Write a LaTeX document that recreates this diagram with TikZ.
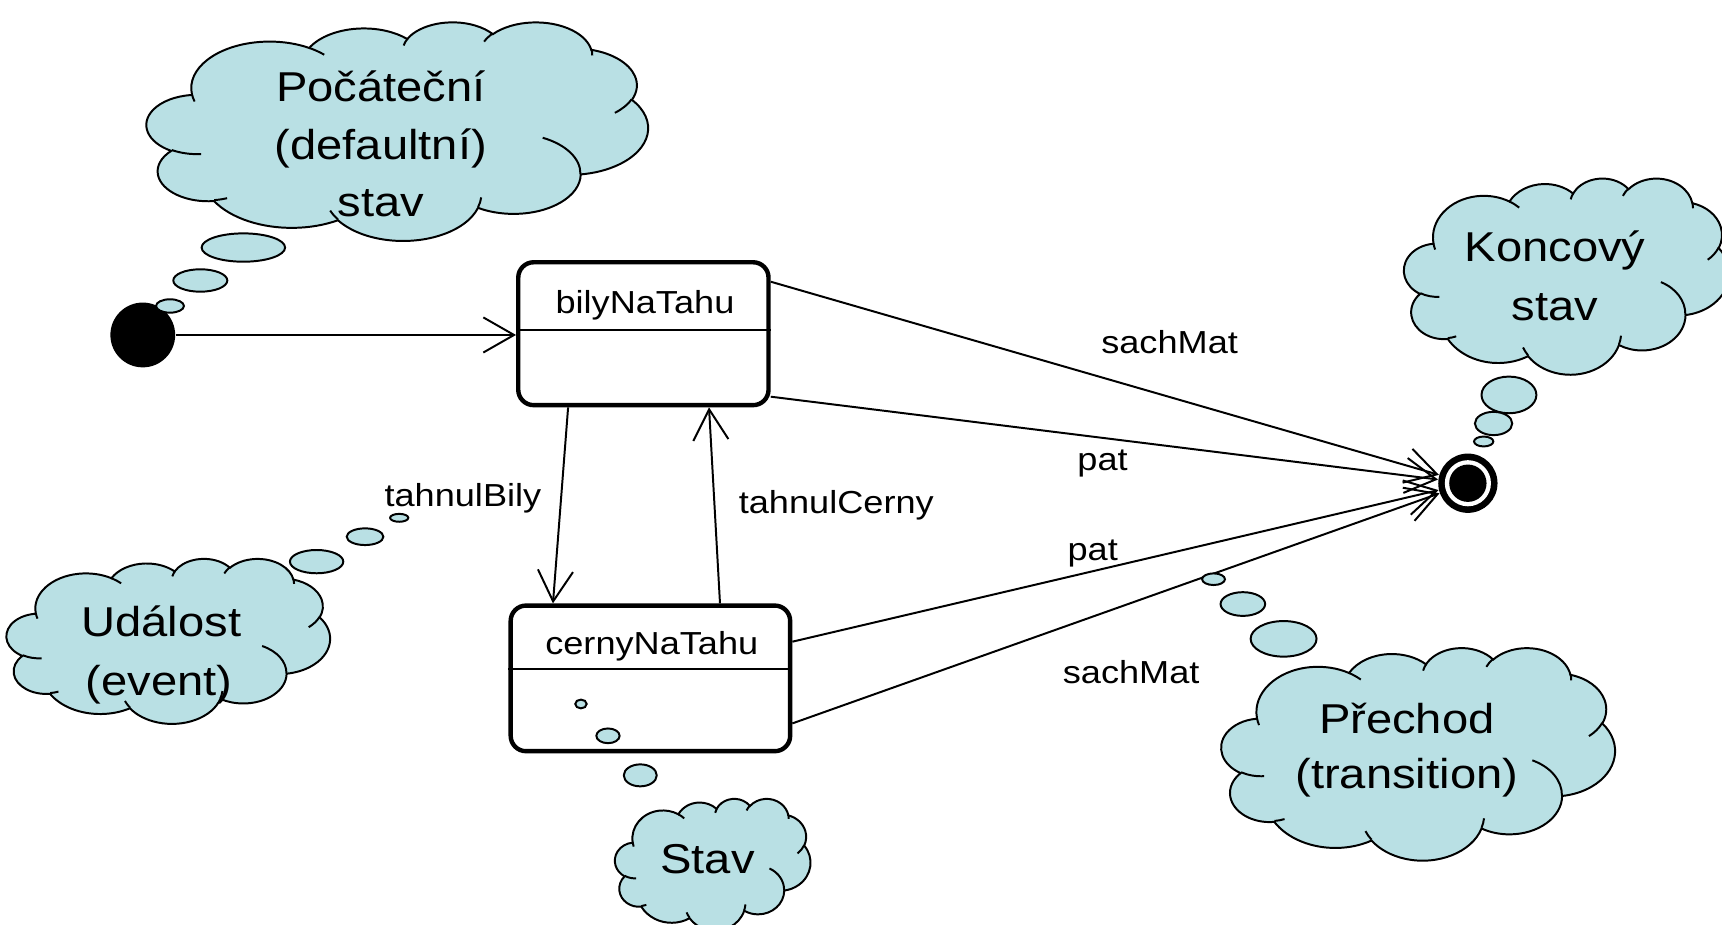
\documentclass[tikz,border=0pt]{standalone}
\usepackage{fontspec}
\setmainfont{Liberation Sans}
\newfontfamily\cldfam[FakeStretch=1.13]{Liberation Sans}
\newfontfamily\lblfam[FakeStretch=1.135]{Liberation Sans}
\usetikzlibrary{arrows.meta}
\definecolor{cloudblue}{RGB}{185,224,228}

% elliptic arc given by radii, start angle and sweep (angles measured on the ellipse as seen)
\newcommand\cldarc[4]{arc[x radius=#1, y radius=#2,
  start angle={atan2((#1)*sin(#3),(#2)*cos(#3))},
  delta angle={mod(atan2((#1)*sin((#3)+(#4)),(#2)*cos((#3)+(#4)))-atan2((#1)*sin(#3),(#2)*cos(#3))+720,360)}]}

% cloud outline in a 43.2 x 43.2 box
\newcommand\cloudoutline{(3.900,14.370)
  \cldarc{6.753}{9.190}{-190.4875}{123.7805}
  \cldarc{5.333}{7.267}{-144.1024}{89.9452}
  \cldarc{4.365}{5.945}{-145.8079}{99.7230}
  \cldarc{4.857}{6.595}{-130.9861}{117.2417}
  \cldarc{5.333}{7.273}{-78.7089}{109.0269}
  \cldarc{6.775}{9.220}{-46.2673}{130.2690}
  \cldarc{5.785}{7.867}{0.6250}{114.0333}
  \cldarc{6.752}{9.215}{22.4516}{115.1726}
  \cldarc{7.720}{10.543}{66.2426}{75.7110}
  \cldarc{4.360}{5.918}{-274.9421}{146.7356}
  \cldarc{4.345}{5.945}{-246.8285}{152.5189} -- cycle}

% inner creases of the cloud
\newcommand\cloudcreases{
  (4.693,26.177) \cldarc{4.345}{5.945}{86.7420}{26.4295}
  (6.928,34.899) \cldarc{4.360}{5.918}{73.6105}{11.4475}
  (16.478,39.090) \cldarc{6.752}{9.215}{137.6242}{14.0811}
  (28.827,34.751) \cldarc{6.752}{9.215}{6.4533}{15.9984}
  (34.129,22.954) \cldarc{5.785}{7.867}{-70.2924}{70.9174}
  (41.798,15.354) \cldarc{5.333}{7.273}{30.3180}{27.7515}
  (38.324,5.426) \cldarc{4.857}{6.595}{-13.7443}{14.8589}
  (29.078,3.952) \cldarc{4.857}{6.595}{-149.1815}{18.1954}
  (22.141,4.720) \cldarc{4.365}{5.945}{-163.4943}{17.6864}
  (14.000,5.192) \cldarc{6.753}{9.190}{-66.7070}{12.3194}
  (4.127,15.789) \cldarc{6.753}{9.190}{157.6544}{11.8582}}

% #1,#2: top left corner, #3,#4: x and y scale of the 43.2 box
\newcommand\thoughtcloud[4]{%
  \begin{scope}[shift={(#1,#2)}, xscale=#3, yscale=#4]
    \path[cloudbody] \cloudoutline;
    \path[crease] \cloudcreases;
  \end{scope}}

\begin{document}
\begin{tikzpicture}[x=0.5pt, y=-0.5pt,
  statebox/.style={draw, line width=2pt, rounded corners=7pt, fill=white, inner sep=0pt},
  trans/.style={line width=0.9pt, -{Straight Barb[length=14pt, width=16pt]}},
  lbl/.style={font=\lblfam\fontsize{14.5}{17}\selectfont, anchor=base, inner sep=0pt},
  ctext/.style={font=\cldfam\fontsize{19}{23}\selectfont, anchor=base, inner sep=0pt},
  cloudbody/.style={draw=black, line width=0.9pt, fill=cloudblue},
  crease/.style={draw=black, line width=0.9pt},
  bubble/.style={draw=black, line width=0.9pt, fill=cloudblue}]

\useasboundingbox (0,0) rectangle (1568,842);
\clip (0,0) rectangle (1568,842);

% ---- state machine ----
\node[circle, fill=black, minimum size=29.5pt, inner sep=0pt] (init) at (130,305) {};
\node[circle, fill=black, minimum size=27pt, inner sep=0pt] (final) at (1336.6,440) {};
\fill[white] (final.center) circle[radius=10.5pt];
\fill[black] (final.center) circle[radius=8.5pt];

\node[statebox, minimum width=113.95pt, minimum height=65.05pt] (bily) at (585.85,303.85) {};
\node[statebox, minimum width=127.25pt, minimum height=66.3pt] (cerny) at (592.25,617.7) {};

\coordinate (sepB) at (0,300.5);
\coordinate (sepC) at (0,609.5);
\draw[line width=1pt] (bily.west |- sepB) -- (bily.east |- sepB);
\draw[line width=1pt] (cerny.west |- sepC) -- (cerny.east |- sepC);

\node[lbl] (bilyname) at (587.3,285.3) {bilyNaTahu};
\node[lbl] (cernyname) at (593.5,596.4) {cernyNaTahu};

% connector end points on the state boxes
\coordinate (xBout) at (517.3,0);
\coordinate (xCin)  at (503.5,0);
\coordinate (xCout) at (655.6,0);
\coordinate (xBin)  at (645.6,0);
\coordinate (yB1) at (0,256.5);
\coordinate (yB2) at (0,361.2);
\coordinate (yC1) at (0,584.3);
\coordinate (yC2) at (0,658.7);

\draw[trans] (init) -- (init -| bily.west);
\draw[trans] (bily.south -| xBout) -- (cerny.north -| xCin);
\draw[trans] (cerny.north -| xCout) -- (bily.south -| xBin);
\draw[trans] (bily.east |- yB1) -- (final);
\draw[trans] (bily.east |- yB2) -- (final);
\draw[trans] (cerny.east |- yC1) -- (final);
\draw[trans] (cerny.east |- yC2) -- (final);

\node[lbl] (lsm1) at (1065,321.7) {sachMat};
\node[lbl] (lpat1) at (1004,428) {pat};
\node[lbl] (lpat2) at (995,510) {pat};
\node[lbl] (lsm2) at (1030,622.2) {sachMat};
\node[lbl] (ltb) at (421.5,461.4) {tahnulBily};
\node[lbl] (ltc) at (761.5,467.4) {tahnulCerny};

% ---- thought clouds ----
% initial state
\thoughtcloud{133.6}{19.7}{10.565}{4.606}
\path[bubble] (221.6,225.4) ellipse[x radius=38, y radius=12.9];
\path[bubble] (182.4,255.4) ellipse[x radius=24.6, y radius=10.2];
\path[bubble] (154.8,278.6) ellipse[x radius=12.7, y radius=6.1];
\node[ctext] (t1a) at (346.8,92.6) {Počáteční};
\node[ctext] (t1b) at (346.8,145) {(defaultní)};
\node[ctext] (t1c) at (346.8,197) {stav};

% final state
\thoughtcloud{1278.5}{162}{6.852}{4.134}
\path[bubble] (1374,359.6) ellipse[x radius=25, y radius=16.7];
\path[bubble] (1360,385.6) ellipse[x radius=17, y radius=10.6];
\path[bubble] (1351,402) ellipse[x radius=8.8, y radius=4.5];
\node[ctext] (t2a) at (1416,238.3) {Koncový};
\node[ctext] (t2b) at (1416,291.4) {stav};

% event
\thoughtcloud{6}{508.4}{6.817}{3.477}
\path[bubble] (288.3,511.4) ellipse[x radius=24.3, y radius=10.6];
\path[bubble] (332.4,488.7) ellipse[x radius=16.7, y radius=7.6];
\path[bubble] (363.5,471.5) ellipse[x radius=8.3, y radius=3.6];
\node[ctext] (t3a) at (147,579.7) {Událost};
\node[ctext] (t3b) at (145,632.9) {(event)};

% transition
\thoughtcloud{1112.2}{589.5}{8.294}{4.479}
\path[bubble] (1168.8,581.7) ellipse[x radius=30, y radius=16.2];
\path[bubble] (1131.7,550) ellipse[x radius=20.3, y radius=10.8];
\path[bubble] (1105,527.4) ellipse[x radius=10.4, y radius=5.3];
\node[ctext] (t4a) at (1281,667.7) {Přechod};
\node[ctext] (t4b) at (1281,717.9) {(transition)};

% state
\thoughtcloud{560}{727}{4.120}{2.778}
\path[bubble] (583,706) ellipse[x radius=15, y radius=10];
\path[bubble] (553.6,670) ellipse[x radius=10.6, y radius=6.7];
\path[bubble] (529,641) ellipse[x radius=5.2, y radius=4];
\node[ctext] (t5a) at (644.3,795.2) {Stav};

\end{tikzpicture}
\end{document}
